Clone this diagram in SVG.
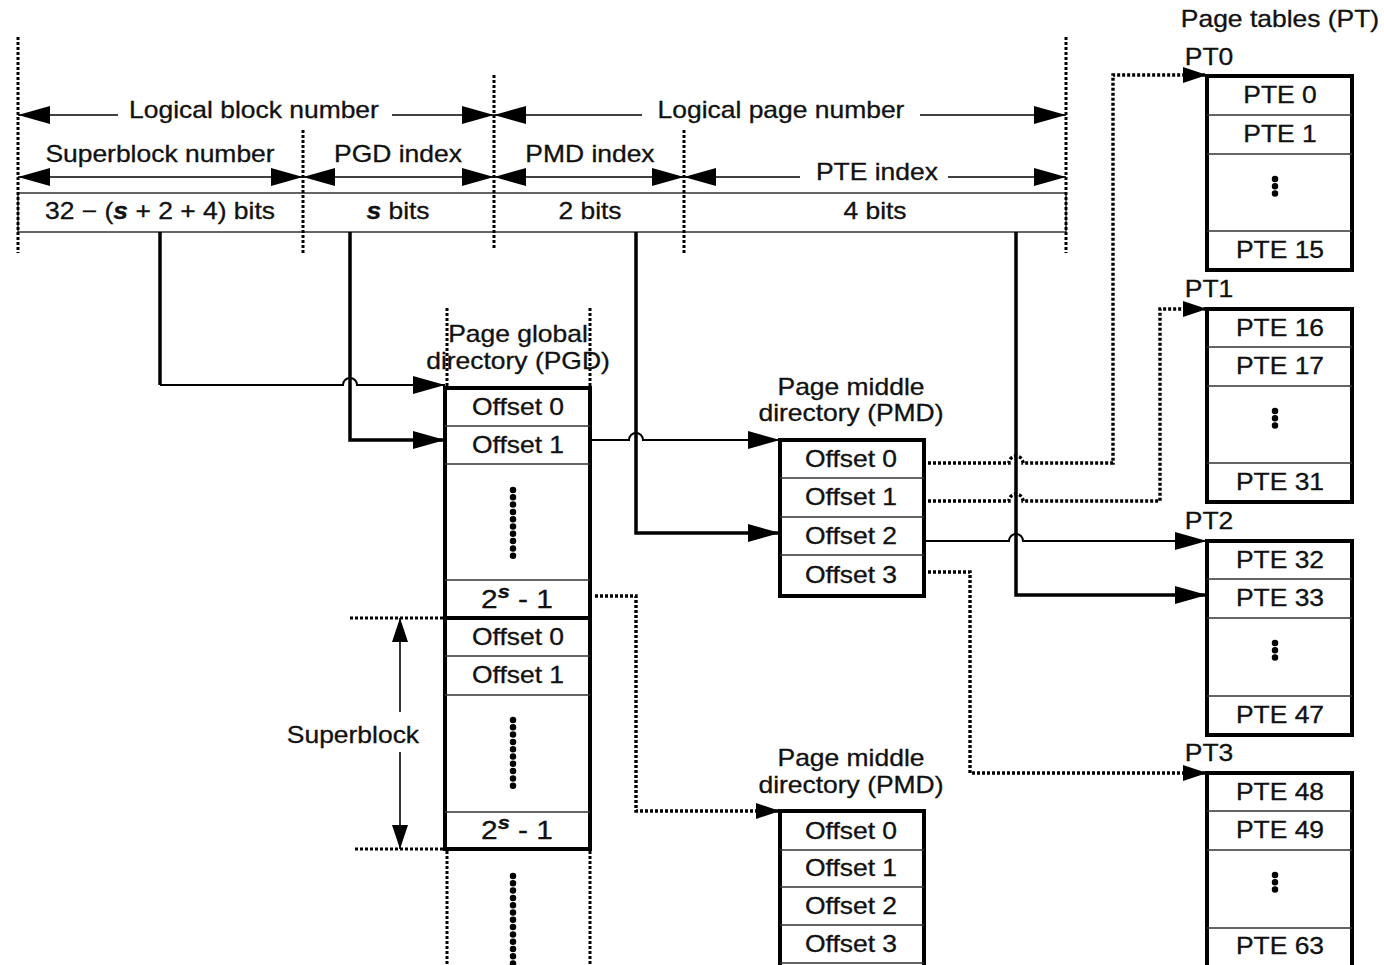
<svg xmlns="http://www.w3.org/2000/svg" width="1384" height="965" viewBox="0 0 1384 965">
<style>
text { font-family: "Liberation Sans", Arial, Helvetica, sans-serif; font-size: 23px; fill: #111; stroke: #111; stroke-width: 0.3; text-anchor: middle; transform-box: fill-box; transform-origin: center; transform: scaleX(1.15); }
.bi { font-weight: bold; font-style: italic; }
.big { font-size: 26px; }
.sup { font-size: 19px; font-weight: bold; font-style: italic; }
.box { fill: #fff; stroke: #000; stroke-width: 4; }
.sep { stroke: #333; stroke-width: 1.5; fill: none; }
.dim { stroke: #000; stroke-width: 1.6; fill: none; }
.vdot { stroke: #000; stroke-width: 3; stroke-dasharray: 3 2; fill: none; }
.dots { stroke: #000; stroke-width: 6.5; stroke-linecap: round; stroke-dasharray: 0 7.3; fill: none; }
.thick { stroke: #000; stroke-width: 3.5; fill: none; }
.thin { stroke: #000; stroke-width: 2; fill: none; }
.dotted { stroke: #000; stroke-width: 3.4; stroke-dasharray: 3 2; fill: none; }
</style>
<defs>
<marker id="ah" markerUnits="userSpaceOnUse" markerWidth="33" markerHeight="18" refX="32" refY="9" orient="auto-start-reverse"><path d="M0,0 L32,9 L0,18 z" fill="#000"/></marker>
<marker id="am" markerUnits="userSpaceOnUse" markerWidth="25" markerHeight="16" refX="24" refY="8" orient="auto-start-reverse"><path d="M0,0 L24,8 L0,16 z" fill="#000"/></marker>
</defs>

<g id="bitfield">
<rect x="18" y="193" width="1048" height="39" fill="#fff" stroke="#333" stroke-width="1.5"/>
<path class="vdot" d="M18 37 V253 M1066 37 V253 M303 130 V253 M494 75 V250 M684 130 V253"/>
<text x="160" y="219">32 − (<tspan class="bi">s</tspan> + 2 + 4) bits</text>
<text x="398" y="219"><tspan class="bi">s</tspan> bits</text>
<text x="590" y="219">2 bits</text>
<text x="875" y="219">4 bits</text>
</g>

<g id="dimensions">
<path class="dim" d="M118 115 H18" marker-end="url(#ah)"/>
<path class="dim" d="M392 115 H494" marker-end="url(#ah)"/>
<text x="254" y="118">Logical block number</text>
<path class="dim" d="M642 115 H494" marker-end="url(#ah)"/>
<path class="dim" d="M920 115 H1066" marker-end="url(#ah)"/>
<text x="781" y="118">Logical page number</text>
<path class="dim" d="M18 177 H303" marker-start="url(#ah)" marker-end="url(#ah)"/>
<text x="160" y="162">Superblock number</text>
<path class="dim" d="M303 177 H494" marker-start="url(#ah)" marker-end="url(#ah)"/>
<text x="398" y="162">PGD index</text>
<path class="dim" d="M494 177 H684" marker-start="url(#ah)" marker-end="url(#ah)"/>
<text x="590" y="162">PMD index</text>
<path class="dim" d="M800 177 H684" marker-end="url(#ah)"/>
<path class="dim" d="M948 177 H1066" marker-end="url(#ah)"/>
<text x="877" y="180">PTE index</text>
</g>

<g id="pgd">
<path class="vdot" d="M447 308 V388 M590 308 V388"/>
<text x="518" y="342">Page global</text>
<text x="518" y="369">directory (PGD)</text>
<rect class="box" x="445" y="388" width="145" height="461"/>
<path class="sep" d="M445 426 H590 M445 464 H590 M445 580 H590 M445 656 H590 M445 695 H590 M445 812 H590"/>
<path stroke="#000" stroke-width="4" d="M445 618 H590"/>
<text x="518" y="415">Offset 0</text>
<text x="518" y="453">Offset 1</text>
<path class="dots" d="M513 490 V556"/>
<text class="big" x="517" y="608">2<tspan class="sup" dy="-10">s</tspan><tspan dy="10"> - 1</tspan></text>
<text x="518" y="645">Offset 0</text>
<text x="518" y="683">Offset 1</text>
<path class="dots" d="M513 720 V786"/>
<text class="big" x="517" y="839">2<tspan class="sup" dy="-10">s</tspan><tspan dy="10"> - 1</tspan></text>
<path class="vdot" d="M447 851 V965 M590 851 V965"/>
<path class="dots" d="M513 876 V965"/>
</g>

<g id="superblock">
<path class="vdot" d="M350 618 H445 M355 849 H445"/>
<path class="dim" d="M400 712 V618" marker-end="url(#am)"/>
<path class="dim" d="M400 752 V849" marker-end="url(#am)"/>
<text x="353" y="743">Superblock</text>
</g>

<g id="pmd1">
<text x="851" y="395">Page middle</text>
<text x="851" y="421">directory (PMD)</text>
<rect class="box" x="780" y="440" width="144" height="156"/>
<path class="sep" d="M780 478 H924 M780 517 H924 M780 555 H924"/>
<text x="851" y="467">Offset 0</text>
<text x="851" y="505">Offset 1</text>
<text x="851" y="544">Offset 2</text>
<text x="851" y="583">Offset 3</text>
</g>

<g id="pmd2">
<text x="851" y="766">Page middle</text>
<text x="851" y="793">directory (PMD)</text>
<rect class="box" x="780" y="811" width="144" height="170"/>
<path class="sep" d="M780 850 H924 M780 887 H924 M780 925 H924 M780 963 H924"/>
<text x="851" y="839">Offset 0</text>
<text x="851" y="876">Offset 1</text>
<text x="851" y="914">Offset 2</text>
<text x="851" y="952">Offset 3</text>
</g>

<g id="pt-title">
<text x="1280" y="27">Page tables (PT)</text>
</g>

<g id="pt0">
<text x="1209" y="65">PT0</text>
<rect class="box" x="1207" y="76" width="145" height="194"/>
<path class="sep" d="M1207 115 H1352 M1207 154 H1352 M1207 231 H1352"/>
<text x="1280" y="103">PTE 0</text>
<text x="1280" y="142">PTE 1</text>
<path class="dots" d="M1275 179 V199" stroke-dasharray="0 10"/>
<text x="1280" y="258">PTE 15</text>
</g>

<g id="pt1">
<text x="1209" y="297">PT1</text>
<rect class="box" x="1207" y="309" width="145" height="193"/>
<path class="sep" d="M1207 347 H1352 M1207 386 H1352 M1207 463 H1352"/>
<text x="1280" y="336">PTE 16</text>
<text x="1280" y="374">PTE 17</text>
<path class="dots" d="M1275 411 V431" stroke-dasharray="0 10"/>
<text x="1280" y="490">PTE 31</text>
</g>

<g id="pt2">
<text x="1209" y="529">PT2</text>
<rect class="box" x="1207" y="541" width="145" height="194"/>
<path class="sep" d="M1207 579 H1352 M1207 618 H1352 M1207 696 H1352"/>
<text x="1280" y="568">PTE 32</text>
<text x="1280" y="606">PTE 33</text>
<path class="dots" d="M1275 643 V663" stroke-dasharray="0 10"/>
<text x="1280" y="723">PTE 47</text>
</g>

<g id="pt3">
<text x="1209" y="761">PT3</text>
<rect class="box" x="1207" y="773" width="145" height="210"/>
<path class="sep" d="M1207 811 H1352 M1207 850 H1352 M1207 928 H1352"/>
<text x="1280" y="800">PTE 48</text>
<text x="1280" y="838">PTE 49</text>
<path class="dots" d="M1275 875 V895" stroke-dasharray="0 10"/>
<text x="1280" y="954">PTE 63</text>
</g>

<g id="connectors">
<path class="thick" d="M160 232 V385"/>
<path class="thin" d="M160 385 H343 A7 7 0 0 1 357 385 H445" marker-end="url(#ah)"/>
<path class="thick" d="M350 232 V440 H445" marker-end="url(#ah)"/>
<path class="thick" d="M636 232 V533 H780" marker-end="url(#ah)"/>
<path class="thick" d="M1016 232 V595 H1207" marker-end="url(#ah)"/>
<path class="thin" d="M590 440 H629 A7 7 0 0 1 643 440 H780" marker-end="url(#ah)"/>
<path class="thin" d="M924 541 H1009 A7 7 0 0 1 1023 541 H1207" marker-end="url(#ah)"/>
<path class="dotted" d="M928 463 H1009 A7 7 0 0 1 1023 463 H1113 V75 H1207" marker-end="url(#am)"/>
<path class="dotted" d="M928 501 H1009 A7 7 0 0 1 1023 501 H1160 V309 H1207" marker-end="url(#am)"/>
<path class="dotted" d="M928 572 H970 V773 H1207" marker-end="url(#am)"/>
<path class="dotted" d="M595 596 H636 V811 H780" marker-end="url(#am)"/>
</g>
</svg>
